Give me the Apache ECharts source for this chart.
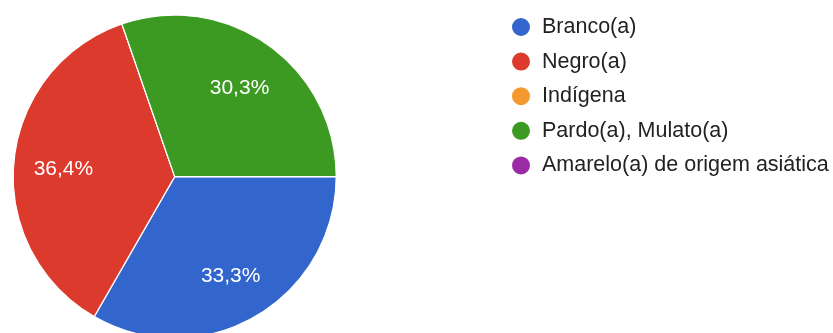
<!DOCTYPE html>
<html>
<head>
<meta charset="utf-8">
<script src="https://cdn.jsdelivr.net/npm/echarts@6/dist/echarts.min.js"></script>
<style>
  html, body { margin: 0; padding: 0; background: #ffffff; }
  #chart { width: 833px; height: 333px; }
</style>
</head>
<body>
<div id="chart"></div>
<script>
// Respondent self-declared race/colour (share of answers, %)
const categories = ['Branco(a)', 'Negro(a)', 'Indígena', 'Pardo(a), Mulato(a)', 'Amarelo(a) de origem asiática'];
const shares = [33.3, 36.4, 0, 30.3, 0];
const colors = ['#3366cc', '#dc3a2c', '#f5992e', '#3c9a23', '#9a2aa6'];

const FONT = '"Liberation Sans", Arial, sans-serif';
const CENTER = [174.7, 176.6];
const R = 161.5;

const pieData = categories.map((name, i) => ({
  name: name,
  value: shares[i],
  itemStyle: { color: colors[i] }
}));

function pctLabel(p) {
  return p.value ? p.value.toFixed(1).replace('.', ',') + '%' : '';
}

const chart = echarts.init(document.getElementById('chart'), null, { renderer: 'canvas' });
chart.setOption({
  animation: false,
  backgroundColor: '#ffffff',
  color: colors,
  legend: {
    orient: 'vertical',
    left: 505,
    top: 11,
    icon: 'circle',
    itemWidth: 32,
    itemHeight: 20,
    itemGap: 12.6,
    selectedMode: false,
    data: categories,
    textStyle: { fontFamily: FONT, fontSize: 21.5, color: '#222222' }
  },
  series: [
    {
      // the slices
      type: 'pie',
      center: CENTER,
      radius: [0, R],
      startAngle: 0,
      clockwise: true,
      silent: true,
      data: pieData,
      label: { show: false },
      labelLine: { show: false },
      itemStyle: { borderColor: '#ffffff', borderWidth: 1.2 },
      emphasis: { disabled: true }
    },
    {
      // percentage labels, placed in a ring so they sit well out from the centre
      type: 'pie',
      center: CENTER,
      radius: [56, R],
      startAngle: 0,
      clockwise: true,
      silent: true,
      z: 3,
      data: pieData.map(d => ({ name: d.name, value: d.value })),
      itemStyle: { color: 'rgba(0,0,0,0)', borderWidth: 0 },
      label: {
        show: true,
        position: 'inside',
        formatter: pctLabel,
        offset: [0, 3],
        color: '#ffffff',
        fontFamily: FONT,
        fontSize: 21
      },
      labelLine: { show: false },
      emphasis: { disabled: true }
    }
  ]
});
</script>
</body>
</html>
